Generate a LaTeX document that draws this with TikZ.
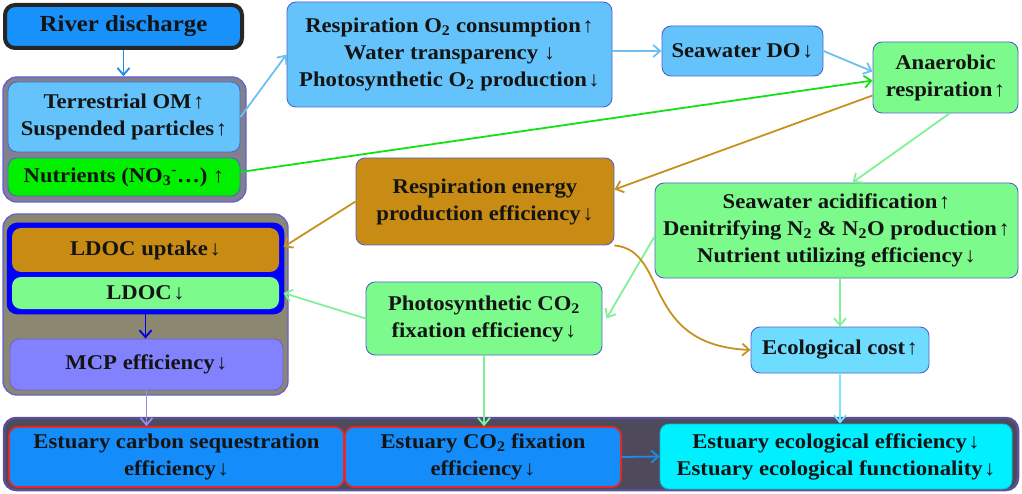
\documentclass[tikz,border=0pt]{standalone}
\usepackage{fontspec}
\setmainfont{Liberation Serif}[BoldFont={Liberation Serif Bold}, FakeStretch=1.08]
\usetikzlibrary{arrows.meta}

\newcommand\up{\kern1.5pt↑}
\newcommand\dn{\kern1.5pt↓}

\definecolor{riverblue}{RGB}{25,145,250}
\definecolor{paleblue}{RGB}{100,195,250}
\definecolor{boxedge}{RGB}{80,100,205}
\definecolor{brightgreen}{RGB}{0,240,0}
\definecolor{palegreen}{RGB}{125,250,140}
\definecolor{ochre}{RGB}{200,140,20}
\definecolor{lilac}{RGB}{130,130,255}
\definecolor{skycyan}{RGB}{110,220,255}
\definecolor{aqua}{RGB}{0,240,255}
\definecolor{estblue}{RGB}{20,140,250}
\definecolor{greygroup}{RGB}{128,128,142}
\definecolor{khaki}{RGB}{140,135,112}
\definecolor{groupedge}{RGB}{100,100,210}
\definecolor{darkband}{RGB}{78,74,92}
\definecolor{bandedge}{RGB}{90,80,150}
\definecolor{redframe}{RGB}{230,40,40}
% connector colours
\definecolor{cblue}{RGB}{110,190,240}
\definecolor{cgreen}{RGB}{20,225,20}
\definecolor{cpale}{RGB}{130,240,150}
\definecolor{cochre}{RGB}{200,145,30}
\definecolor{ccyan}{RGB}{120,230,255}
\definecolor{cpurple}{RGB}{150,140,240}
\definecolor{cdeep}{RGB}{0,0,230}
\definecolor{cmid}{RGB}{30,140,230}

\tikzset{
  txt/.style={font=\bfseries\fontsize{21}{27}\selectfont, align=center, text=black!92},
  box/.style={txt, rectangle, rounded corners=9pt, draw=boxedge, line width=0.9pt, inner sep=0pt},
  group/.style={rectangle, rounded corners=14pt, draw=groupedge, line width=1.4pt, inner sep=0pt},
  conn/.style={line width=1.8pt, -{Straight Barb[length=7pt,width=12pt,line width=1.8pt]}},
}

\begin{document}
\begin{tikzpicture}[x=1pt,y=-1pt]
\useasboundingbox (0,0) rectangle (1022,494);

% ---- left column: river input ----
\node[box, fill=riverblue, draw=black!85, line width=4pt, rounded corners=10pt,
      font=\bfseries\fontsize{23}{27}\selectfont,
      minimum width=237pt, minimum height=43pt] (river) at (123.5,26.5) {River discharge};

\node[group, fill=greygroup, minimum width=243pt, minimum height=125pt] (grp1) at (124.5,139.5) {};
\node[box, fill=paleblue, minimum width=232pt, minimum height=70pt] (terr) at (124,117)
  {Terrestrial OM\up\\Suspended particles\up};
\node[box, fill=brightgreen, minimum width=232pt, minimum height=38pt] (nutr) at (124,177)
  {Nutrients (NO\textsubscript{3}\textsuperscript{-}…) ↑};

% ---- top row ----
\node[box, fill=paleblue, minimum width=325pt, minimum height=105pt] (resp) at (449.5,54.5)
  {Respiration O\textsubscript{2} consumption\up\\Water transparency ↓\\Photosynthetic O\textsubscript{2} production\dn};
\node[box, fill=paleblue, minimum width=161pt, minimum height=50pt] (do) at (742.5,51)
  {Seawater DO\dn};
\node[box, fill=palegreen, minimum width=145pt, minimum height=71pt] (anaer) at (945.5,77.5)
  {Anaerobic\\respiration\up};

% ---- middle ----
\node[box, fill=ochre, minimum width=258pt, minimum height=87pt] (rese) at (485,201.5)
  {Respiration energy\\production efficiency\dn};
\node[box, fill=palegreen, minimum width=363pt, minimum height=95pt] (acid) at (836.5,230.5)
  {Seawater acidification\up\\Denitrifying N\textsubscript{2} \& N\textsubscript{2}O production\up\\Nutrient utilizing efficiency\dn};
\node[box, fill=palegreen, minimum width=236pt, minimum height=73pt] (photo) at (484,318.5)
  {Photosynthetic CO\textsubscript{2}\\fixation efficiency\dn};
\node[box, fill=skycyan, minimum width=178pt, minimum height=46pt] (ecol) at (840,350)
  {Ecological cost\up};

% ---- left column: microbial carbon pump ----
\node[group, fill=khaki, minimum width=285pt, minimum height=181pt] (grp2) at (145.5,304.5) {};
\node[rectangle, rounded corners=9pt, fill=blue, draw=blue, line width=2.5pt,
      minimum width=275pt, minimum height=89pt] (ldocgrp) at (145.5,268.5) {};
\node[box, fill=ochre, draw=none, minimum width=267pt, minimum height=44pt] (uptake) at (145.5,250)
  {LDOC uptake\dn};
\node[box, fill=palegreen, draw=none, minimum width=267pt, minimum height=32pt] (ldoc) at (145.5,293)
  {LDOC\dn};
\node[box, fill=lilac, draw=lilac!80!black, minimum width=273pt, minimum height=51pt] (mcp) at (146.5,364.5)
  {MCP efficiency\dn};

% ---- bottom band ----
\node[rectangle, rounded corners=12pt, fill=darkband, draw=bandedge, line width=2.5pt,
      minimum width=1014pt, minimum height=72pt] (band) at (511,454) {};
\node[box, fill=estblue, draw=redframe, line width=1.6pt, minimum width=335pt, minimum height=60pt] (carbon) at (176.5,457)
  {Estuary carbon sequestration\\efficiency\dn};
\node[box, fill=estblue, draw=redframe, line width=1.6pt, minimum width=276pt, minimum height=60pt] (co2) at (483,457)
  {Estuary CO\textsubscript{2} fixation\\efficiency\dn};
\node[box, fill=aqua, draw=aqua!80!black, minimum width=352pt, minimum height=65pt] (eff) at (836,456.5)
  {Estuary ecological efficiency\dn\\Estuary ecological functionality\dn};

% ---- connectors ----
\draw[conn, cmid] (river.south) -- (river.south |- grp1.north);
\draw[conn, cblue] (terr.east) -- (resp.west);
\draw[conn, cblue] (resp.east |- do.west) -- (do.west);
\draw[conn, cblue] (do.east) -- ([yshift=6pt]anaer.west);
\draw[conn, cgreen] ([yshift=5pt]nutr.east) -- ([yshift=-3pt]anaer.west);
\draw[conn, cochre] ([yshift=-18pt]anaer.west) -- ([yshift=12pt]rese.east);
\draw[conn, cpale] ([xshift=4pt]anaer.south) -- ([xshift=16pt]acid.north);
\draw[conn, cochre] (rese.west) -- ([xshift=4pt,yshift=3pt]uptake.east);
\draw[conn, cpale] (photo.west) -- ([xshift=4pt]ldoc.east);
\draw[conn, cpale] ([yshift=-6pt]acid.west) -- ([xshift=4pt]photo.east);
\draw[conn, cochre] (rese.south east) .. controls +(55,5) and +(-110,-5) .. (ecol.west);
\draw[conn, cpale] (acid.south -| ecol.north) -- (ecol.north);
\draw[conn, ccyan] (ecol.south) -- (ecol.south |- eff.north);
\draw[conn, cpale] (photo.south) -- (photo.south |- co2.north);
\draw[conn, cpurple] (mcp.south) -- (mcp.south |- carbon.north);
\draw[conn, cdeep] (ldocgrp.south) -- (ldocgrp.south |- mcp.north);
\draw[conn, cmid] (co2.east) -- (eff.west);
\end{tikzpicture}
\end{document}
